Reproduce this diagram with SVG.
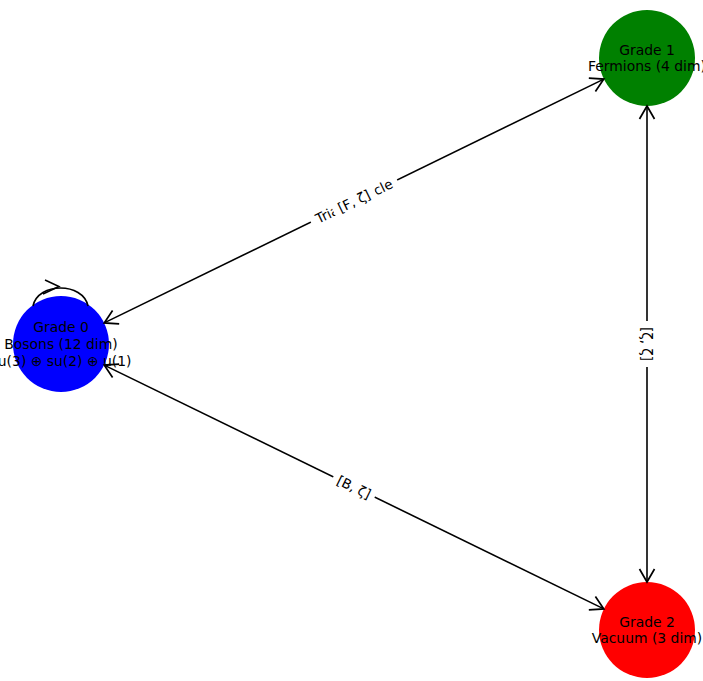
<svg xmlns="http://www.w3.org/2000/svg" width="703" height="681" viewBox="0 0 703 681">
<style>
.nt{font-family:"DejaVu Sans",sans-serif;font-size:13.9px;fill:#000;text-anchor:middle;dominant-baseline:central}
.el{font-family:"DejaVu Sans",sans-serif;font-size:13.5px;fill:#000;text-anchor:middle;dominant-baseline:central}
.e{stroke:#000;stroke-width:1.6;fill:none}
</style>
<defs>
<marker id="ah" markerUnits="userSpaceOnUse" markerWidth="30" markerHeight="30" refX="0" refY="0" viewBox="-15 -15 30 30" orient="auto-start-reverse" overflow="visible">
<path d="M-13,-7.5 L0,0 L-13,7.5" fill="none" stroke="#000" stroke-width="1.7"/>
</marker>
</defs>
<rect width="703" height="681" fill="#fff"/>
<g id="node-grade0"><circle cx="61" cy="344" r="48" fill="#0000ff"/></g>
<g id="node-grade1"><circle cx="647" cy="58" r="48" fill="#008000"/></g>
<g id="node-grade2"><circle cx="647" cy="630" r="48" fill="#ff0000"/></g>
<g id="connectors">
<line class="e" x1="104.2" y1="322.9" x2="603.8" y2="79.1" marker-start="url(#ah)" marker-end="url(#ah)"/>
<line class="e" x1="104.2" y1="365.1" x2="603.8" y2="608.9" marker-start="url(#ah)" marker-end="url(#ah)"/>
<line class="e" x1="647" y1="106" x2="647" y2="582" marker-start="url(#ah)" marker-end="url(#ah)"/>
<path class="e" d="M33,306 C38,282 83,282 88,306"/>
<path d="M45,280 L59,286.5 L43,294" fill="none" stroke="#000" stroke-width="1.5"/>
<g transform="translate(354,201) rotate(-26)">
<rect x="-48" y="-9" width="96" height="18" fill="#fff"/>
<text class="el" x="0" y="0">Triality cycle</text>
<rect x="-23" y="-9" width="46" height="18" fill="#fff"/>
<text class="el" x="0" y="0">[F, ζ]</text>
</g>
<g transform="translate(354,487) rotate(26)">
<rect x="-23" y="-9" width="46" height="18" fill="#fff"/>
<text class="el" x="0" y="0">[B, ζ]</text>
</g>
<g transform="translate(647,344) rotate(90)">
<rect x="-23" y="-9" width="46" height="18" fill="#fff"/>
<text class="el" x="0" y="0">[ζ, ζ]</text>
</g>
</g>
<g id="node-labels">
<text class="nt" x="61" y="327.3">Grade 0</text>
<text class="nt" x="61" y="344">Bosons (12 dim)</text>
<text class="nt" x="61" y="360.7">su(3) ⊕ su(2) ⊕ u(1)</text>
<text class="nt" x="647" y="49.7">Grade 1</text>
<text class="nt" x="647" y="66.3">Fermions (4 dim)</text>
<text class="nt" x="647" y="621.7">Grade 2</text>
<text class="nt" x="647" y="638.3">Vacuum (3 dim)</text>
</g>
</svg>
